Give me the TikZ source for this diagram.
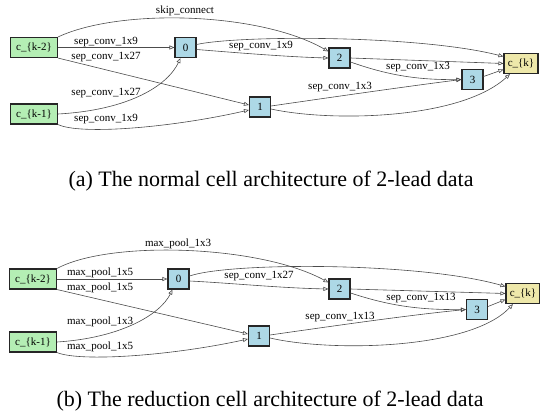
\documentclass[tikz,border=0pt]{standalone}
\usepackage{fontspec}
\setmainfont{Liberation Serif}
\usetikzlibrary{arrows.meta,positioning}

\definecolor{ingreen}{HTML}{B4EEB4}
\definecolor{midblue}{HTML}{ADD8E6}
\definecolor{outyellow}{HTML}{EEE8AA}

\tikzset{
  cell/.style={rectangle,draw=black!85,line width=1.1pt,inner sep=0pt,
               minimum height=20pt,font=\fontsize{11}{12}\selectfont},
  inbox/.style={cell,fill=ingreen,minimum width=47pt},
  midbox/.style={cell,fill=midblue,minimum width=21pt},
  outbox/.style={cell,fill=outyellow,minimum width=34pt},
  lab/.style={inner sep=0.5pt,font=\fontsize{11}{12}\selectfont},
  captext/.style={inner sep=0pt,anchor=base,font=\fontsize{22}{26}\selectfont}
}

\begin{document}
\begin{tikzpicture}[x=1pt,y=-1pt]
\useasboundingbox (0,0) rectangle (540,417);

% normal cell
\begin{scope}
    \node[inbox]  (ak2) at (34,47.5)    {c\_\{k-2\}};
    \node[inbox]  (ak1) at (34,114)     {c\_\{k-1\}};
    \node[midbox] (a0)  at (185.5,47.5) {0};
    \node[midbox] (a1)  at (260,107)    {1};
    \node[midbox] (a2)  at (339.5,58)   {2};
    \node[midbox] (a3)  at (472.5,79.5) {3};
    \node[outbox] (ak)  at (521,63.5)   {c\_\{k\}};
\end{scope}

\begin{scope}[>={Triangle[open,length=5pt,width=4pt]},
              every path/.style={draw=black!70,line width=0.6pt},
              every node/.style={lab}]
    \draw [->] (ak2.east) -- (a0.west);
    \draw [->] (ak2.south east) -- ([yshift=2pt]a1.west);
    \draw [->] (ak2.north east) .. controls (120,8) and (260,12) .. ([yshift=-4pt]a2.north west);
    \draw [->] (ak1.east) .. controls (130,110) and (168,85) .. ([xshift=-5pt]a0.south);
    \draw [->] (ak1.south east) .. controls (80,135) and (170,128) .. ([yshift=-3pt]a1.west);
    \draw [->] ([yshift=-2pt]a0.east) .. controls (240,53) and (290,57) .. (a2.west);
    \draw [->] ([yshift=3pt]a0.east) .. controls (240,35) and (420,35) .. ([yshift=7pt]ak.west);
    \draw [->] (a2.east) -- (ak.west);
    \draw [->] ([yshift=-4pt]a2.east) .. controls (390,76) and (420,80) .. (a3.west);
    \draw [->] ([yshift=1pt]a1.east) .. controls (340,96) and (410,86) .. (a3.west);
    \draw [->] ([yshift=-2pt]a1.east) .. controls (330,122) and (460,120) .. ([xshift=-11pt]ak.south);
    \draw [->] ([yshift=3pt]a3.east) -- ([yshift=-6pt]ak.west);

    \node (askip) at (185,11)  {skip\_connect};
    \node (ae1)   at (106,42)  {sep\_conv\_1x9};
    \node (ae2)   at (106,57)  {sep\_conv\_1x27};
    \node (ae3)   at (106,93)  {sep\_conv\_1x27};
    \node (ae4)   at (106,119) {sep\_conv\_1x9};
    \node (ae5)   at (261,46)  {sep\_conv\_1x9};
    \node (ae6)   at (418,67)  {sep\_conv\_1x3};
    \node (ae7)   at (340,87)  {sep\_conv\_1x3};
\end{scope}

\node[captext] (acap) at (271,186) {(a) The normal cell architecture of 2-lead data};

% reduction cell
\begin{scope}
    \node[inbox]  (bk2) at (33,279)     {c\_\{k-2\}};
    \node[inbox]  (bk1) at (33,342)     {c\_\{k-1\}};
    \node[midbox] (b0)  at (178.5,279)  {0};
    \node[midbox] (b1)  at (259,336)    {1};
    \node[midbox] (b2)  at (339.5,289)  {2};
    \node[midbox] (b3)  at (477,309.5)  {3};
    \node[outbox] (bk)  at (523,293.5)  {c\_\{k\}};
\end{scope}

\begin{scope}[>={Triangle[open,length=5pt,width=4pt]},
              every path/.style={draw=black!70,line width=0.6pt},
              every node/.style={lab}]
    \draw [->] (bk2.east) -- (b0.west);
    \draw [->] (bk2.south east) -- ([yshift=2pt]b1.west);
    \draw [->] (bk2.north east) .. controls (110,240) and (260,245) .. ([yshift=-4pt]b2.north west);
    \draw [->] (bk1.east) .. controls (120,338) and (160,315) .. ([xshift=-6pt]b0.south);
    \draw [->] (bk1.south east) .. controls (80,362) and (170,356) .. ([yshift=-3pt]b1.west);
    \draw [->] ([yshift=-2pt]b0.east) .. controls (230,283) and (280,288) .. (b2.west);
    \draw [->] ([yshift=3pt]b0.east) .. controls (230,262) and (420,262) .. ([yshift=7pt]bk.west);
    \draw [->] (b2.east) -- (bk.west);
    \draw [->] ([yshift=-4pt]b2.east) .. controls (390,306) and (420,310) .. (b3.west);
    \draw [->] ([yshift=1pt]b1.east) .. controls (340,325) and (410,315) .. (b3.west);
    \draw [->] ([yshift=-2pt]b1.east) .. controls (330,352) and (470,350) .. ([xshift=-10pt]bk.south);
    \draw [->] ([yshift=3pt]b3.east) -- ([yshift=-6pt]bk.west);

    \node (bskip) at (178,244) {max\_pool\_1x3};
    \node (be1)   at (100,273) {max\_pool\_1x5};
    \node (be2)   at (100,288) {max\_pool\_1x5};
    \node (be3)   at (100,322) {max\_pool\_1x3};
    \node (be4)   at (100,347) {max\_pool\_1x5};
    \node (be5)   at (259,276) {sep\_conv\_1x27};
    \node (be6)   at (421,298) {sep\_conv\_1x13};
    \node (be7)   at (340,317) {sep\_conv\_1x13};
\end{scope}

\node[captext] (bcap) at (270,406) {(b) The reduction cell architecture of 2-lead data};
\end{tikzpicture}
\end{document}
